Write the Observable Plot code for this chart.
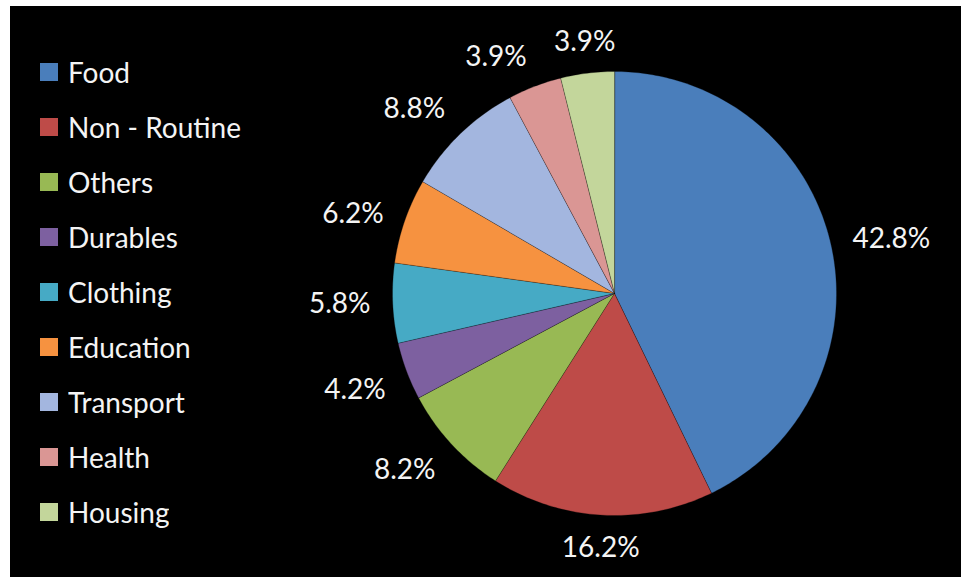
<!DOCTYPE html>
<html><head><meta charset="utf-8">
<script src="https://cdn.jsdelivr.net/npm/d3@7"></script>
<script src="https://cdn.jsdelivr.net/npm/@observablehq/plot@0.6"></script>
<style>
html,body{margin:0;padding:0;background:#fff;}
#wrap{position:relative;width:961px;height:577px;overflow:hidden;background:#fff;}
#chart{position:absolute;left:10px;top:6px;width:951px;height:571px;background:#000;}
#legend{position:absolute;left:40px;top:45px;}
.lg-swatches-columns .lg-swatch{height:54.9px;padding-bottom:0 !important;display:flex;align-items:center;}
.lg-swatch svg{margin-right:10px !important;}
.lg-swatch-label{color:#f4f4f4;}
</style></head><body><div id="wrap"><div id="chart"></div><div id="legend"></div></div>
<script>
const categories = ["Food","Non - Routine","Others","Durables","Clothing","Education","Transport","Health","Housing"];
const shares = [42.8,16.2,8.2,4.2,5.8,6.2,8.8,3.9,3.9];
const colors = ["#4A7EBB","#BE4B48","#98B954","#7D60A0","#46AAC5","#F69240","#A3B6DF","#DA9694","#C3D69B"];

const fmt = d => d3.format(".1f")(d) + "%";

// slice polygons (angles clockwise from 12 o'clock)
const slicePts = [];
const labelRows = [];
let cum = 0;
categories.forEach((c, i) => {
  const a0 = cum / 100 * 2 * Math.PI;
  const a1 = (cum + shares[i]) / 100 * 2 * Math.PI;
  slicePts.push({cat: c, x: 0, y: 0});
  const n = Math.max(8, Math.ceil(shares[i] * 4));
  for (let k = 0; k <= n; k++) {
    const a = a0 + (a1 - a0) * k / n;
    slicePts.push({cat: c, x: Math.sin(a), y: -Math.cos(a)});
  }
  const m = (a0 + a1) / 2;
  const g = 1.1;
  const s = Math.sin(m), co = -Math.cos(m);
  labelRows.push({
    cat: c, text: fmt(shares[i]), x: g * s, y: g * co,
    h: s > 0.35 ? "start" : s < -0.35 ? "end" : "middle",
    v: co < -0.35 ? "bottom" : co > 0.35 ? "top" : "middle"
  });
  cum += shares[i];
});

const groups = d3.groups(labelRows, d => d.h + "|" + d.v);
const labelMarks = groups.map(([key, rows]) => {
  const [h, v] = key.split("|");
  return Plot.text(rows, {x: "x", y: "y", text: "text", textAnchor: h, lineAnchor: v,
    fill: "#f4f4f4", fontSize: 28, fontFamily: "Lato"});
});

const chart = Plot.plot({
  width: 951, height: 571, margin: 0,
  x: {domain: [-1, 1], range: [382, 826], axis: null},
  y: {domain: [-1, 1], range: [65, 509], axis: null},
  color: {type: "ordinal", domain: categories, range: colors},
  style: {background: "#000", fontFamily: "Lato"},
  marks: [
    Plot.line(slicePts, {x: "x", y: "y", z: "cat", fill: "cat", stroke: "rgba(0,0,0,0.35)", strokeWidth: 0.8, curve: "linear-closed"}),
    ...labelMarks
  ]
});
document.getElementById("chart").appendChild(chart);

const legend = Plot.legend({
  color: {type: "ordinal", domain: categories, range: colors},
  legend: "swatches", columns: 1, swatchSize: 18, className: "lg",
  style: {fontFamily: "Lato", fontSize: "28px", color: "#f4f4f4", background: "transparent"}
});
document.getElementById("legend").appendChild(legend);
</script></body></html>
